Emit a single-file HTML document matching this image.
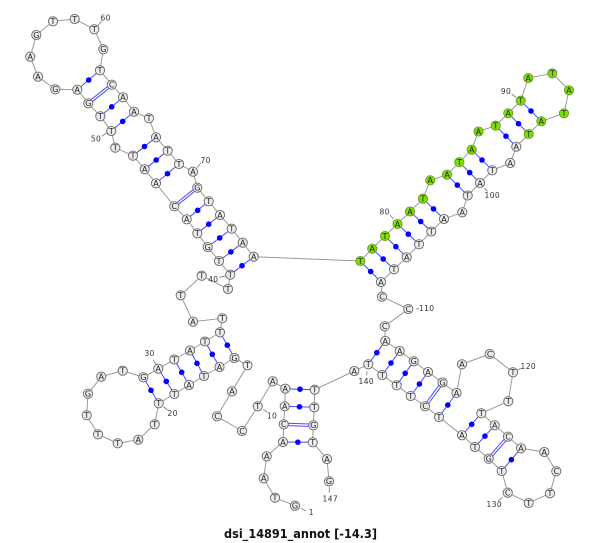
<!DOCTYPE html>
<html><head><meta charset="utf-8"><style>
html,body{margin:0;padding:0;background:#fff}
svg{display:block}
.n circle{fill:#ececec;stroke:#666;stroke-width:.9}
.n text{font:8px "DejaVu Sans",sans-serif;fill:#222;text-anchor:middle}
.g circle{fill:#7fe000;stroke:#6a9a30;stroke-width:.9}
.g text{font:8px "DejaVu Sans",sans-serif;fill:#222;text-anchor:middle}
.l text{font:7.5px "DejaVu Sans",sans-serif;fill:#333;text-anchor:middle;letter-spacing:.4px}
</style></head><body>
<svg width="600" height="543" viewBox="0 0 600 543" xmlns="http://www.w3.org/2000/svg">
<rect width="600" height="543" fill="#fff"/>
<polyline fill="none" stroke="#999" stroke-width="1" points="295,505.7 275,497.7 263.7,478.3 266.7,456.3 283,442 283.7,424.3 284.7,406.3 285.3,388.7 272.7,381.3 257.7,406.3 242,431 217,416.3 232,391.3 247.5,365.3 234.5,358 219.5,367 204,376 189,385 174.3,394 158.7,403.3 154.7,424.3 138.3,439.7 117.7,443.3 98,434.3 86.7,415.3 88,393.7 101.3,376.7 122.7,370.7 143.3,377.3 158.3,368.7 174.3,359.5 190,350.5 205,341.5 220,332.3 222.3,318.3 193,321.7 180.7,295.3 201.7,275.7 228,289 230.3,274.7 219,261 207.7,247 197.3,233.3 186.7,219.3 174.3,206.3 156,183.3 144.7,169.3 133,155.7 115.3,147.7 111.3,131 100.3,116.3 88.3,103.3 77.3,89.7 55.3,89.3 38,76.7 30.3,56.7 36.3,35 53,21.3 74.7,19 94.3,29.3 103.3,49.3 100,70.3 111.7,84.7 123,97.3 134,111.7 149,118.3 156,137.3 167.7,150.7 179,164 193,171.7 197.3,187.7 208.7,201.3 220,215 231.7,228.7 242.7,242.7 253.7,256.7 360.3,261 372.3,248.7 385,236 397.5,224 410,211.5 423,198.7 430.3,180.3 447,174.7 459.3,162.2 471.7,149.7 478.5,131.5 495.7,125.7 508.3,113.3 520.7,100.7 528.3,78 552.3,73.3 569,90.3 564,113.3 541.3,121.3 528.7,134 516.3,146.7 510.3,163 492.3,170.3 480,183 467.7,195.5 462.3,212.3 444,219 431.3,231.5 419,244.3 406.7,257.3 394,269.3 381,282 382,296.7 408.3,309 384.7,326.3 385.3,341 399.7,351 413.7,361.3 428,372 442.5,382.5 456.5,393 462,364.3 489.7,354 513,372.3 508.3,401.3 481.3,413.3 494.7,425.3 508,436.7 521,448.3 544.3,452 556.3,471.3 550,493.3 528.7,503 507.7,492.7 501.7,471 488.7,458.7 475,447 462,435.3 439,417 425,406.3 410.7,396 396.7,385.3 382.3,375 368.3,364.3 354.3,371 314.7,389.7 314.3,407.3 313.3,425.3 312.7,442.3 327,459 329,481.3"/>
<path fill="none" stroke="#4a4aff" stroke-width="1" d="M283,442L312.7,442.3M284.7,406.3L314.3,407.3M285.3,388.7L314.7,389.7M234.5,358L220,332.3M219.5,367L205,341.5M204,376L190,350.5M189,385L174.3,359.5M174.3,394L158.3,368.7M158.7,403.3L143.3,377.3M230.3,274.7L253.7,256.7M219,261L242.7,242.7M207.7,247L231.7,228.7M197.3,233.3L220,215M186.7,219.3L208.7,201.3M156,183.3L179,164M144.7,169.3L167.7,150.7M133,155.7L156,137.3M111.3,131L134,111.7M100.3,116.3L123,97.3M77.3,89.7L100,70.3M360.3,261L381,282M372.3,248.7L394,269.3M385,236L406.7,257.3M397.5,224L419,244.3M410,211.5L431.3,231.5M423,198.7L444,219M447,174.7L467.7,195.5M459.3,162.2L480,183M471.7,149.7L492.3,170.3M495.7,125.7L516.3,146.7M508.3,113.3L528.7,134M520.7,100.7L541.3,121.3M385.3,341L368.3,364.3M399.7,351L382.3,375M413.7,361.3L396.7,385.3M428,372L410.7,396M456.5,393L439,417M481.3,413.3L462,435.3M494.7,425.3L475,447M521,448.3L501.7,471
M175,207.2L198,188.6M173.6,205.4L196.6,186.8M89,104.2L112.4,85.6M87.6,102.4L111,83.8M443.5,383.2L426,407M441.5,381.8L424,405.6M508.9,437.5L489.6,459.5M507.1,435.9L487.8,457.9M283.7,423.1L313.3,424.1M283.7,425.5L313.3,426.5"/>
<g fill="#0000ff">
<circle cx="297.9" cy="442.2" r="2.8"/><circle cx="299.5" cy="406.8" r="2.8"/><circle cx="300" cy="389.2" r="2.8"/>
<circle cx="227.3" cy="345.2" r="2.8"/><circle cx="212.3" cy="354.3" r="2.8"/><circle cx="197" cy="363.3" r="2.8"/><circle cx="181.7" cy="372.3" r="2.8"/><circle cx="166.3" cy="381.4" r="2.8"/><circle cx="151" cy="390.3" r="2.8"/>
<circle cx="242" cy="265.7" r="2.8"/><circle cx="230.9" cy="251.9" r="2.8"/><circle cx="219.7" cy="237.9" r="2.8"/><circle cx="208.7" cy="224.2" r="2.8"/><circle cx="197.7" cy="210.3" r="2.8"/><circle cx="167.5" cy="173.7" r="2.8"/><circle cx="156.2" cy="160" r="2.8"/><circle cx="144.5" cy="146.5" r="2.8"/><circle cx="122.7" cy="121.4" r="2.8"/><circle cx="111.7" cy="106.8" r="2.8"/><circle cx="88.7" cy="80" r="2.8"/>
<circle cx="370.7" cy="271.5" r="2.8"/><circle cx="383.2" cy="259" r="2.8"/><circle cx="395.9" cy="246.7" r="2.8"/><circle cx="408.3" cy="234.2" r="2.8"/><circle cx="420.7" cy="221.5" r="2.8"/><circle cx="433.5" cy="208.9" r="2.8"/><circle cx="457.3" cy="185.1" r="2.8"/><circle cx="469.7" cy="172.6" r="2.8"/><circle cx="482" cy="160" r="2.8"/><circle cx="506" cy="136.2" r="2.8"/><circle cx="518.5" cy="123.7" r="2.8"/><circle cx="531" cy="111" r="2.8"/>
<circle cx="376.8" cy="352.7" r="2.8"/><circle cx="391" cy="363" r="2.8"/><circle cx="405.2" cy="373.3" r="2.8"/><circle cx="419.4" cy="384" r="2.8"/><circle cx="447.8" cy="405" r="2.8"/><circle cx="471.7" cy="424.3" r="2.8"/><circle cx="484.9" cy="436.2" r="2.8"/><circle cx="511.4" cy="459.7" r="2.8"/>
</g>
<path fill="none" stroke="#777" stroke-width=".8" d="M97.7,25.7L102,20.7M101.7,136.3L106.7,132.7M197.3,167.7L201,162.7M219.3,277.3L227.3,275.7M153.3,360L156.3,365M163.3,406.7L167.7,410M263,409.7L267.3,412M301,508.3L306,511M329.3,487.3L329.3,492.7M367.3,371.3L366.3,375.3M416,309L419.3,308.7M517.3,370L521.7,368M498.3,500.7L502.7,497.3M484.3,188.3L487.7,191.3M511.7,94L516,97.3M390,215L393.7,219.3"/>
<g class="n">
<circle cx="295" cy="505.7" r="4.6"/><text x="295" y="508.6">G</text>
<circle cx="275" cy="497.7" r="4.6"/><text x="275" y="500.6">T</text>
<circle cx="263.7" cy="478.3" r="4.6"/><text x="263.7" y="481.2">A</text>
<circle cx="266.7" cy="456.3" r="4.6"/><text x="266.7" y="459.2">A</text>
<circle cx="283" cy="442" r="4.6"/><text x="283" y="444.9">A</text>
<circle cx="283.7" cy="424.3" r="4.6"/><text x="283.7" y="427.2">C</text>
<circle cx="284.7" cy="406.3" r="4.6"/><text x="284.7" y="409.2">A</text>
<circle cx="285.3" cy="388.7" r="4.6"/><text x="285.3" y="391.6">A</text>
<circle cx="272.7" cy="381.3" r="4.6"/><text x="272.7" y="384.2">A</text>
<circle cx="257.7" cy="406.3" r="4.6"/><text x="257.7" y="409.2">T</text>
<circle cx="242" cy="431" r="4.6"/><text x="242" y="433.9">C</text>
<circle cx="217" cy="416.3" r="4.6"/><text x="217" y="419.2">C</text>
<circle cx="232" cy="391.3" r="4.6"/><text x="232" y="394.2">A</text>
<circle cx="247.5" cy="365.3" r="4.6"/><text x="247.5" y="368.2">T</text>
<circle cx="234.5" cy="358" r="4.6"/><text x="234.5" y="360.9">G</text>
<circle cx="219.5" cy="367" r="4.6"/><text x="219.5" y="369.9">A</text>
<circle cx="204" cy="376" r="4.6"/><text x="204" y="378.9">T</text>
<circle cx="189" cy="385" r="4.6"/><text x="189" y="387.9">A</text>
<circle cx="174.3" cy="394" r="4.6"/><text x="174.3" y="396.9">T</text>
<circle cx="158.7" cy="403.3" r="4.6"/><text x="158.7" y="406.2">T</text>
<circle cx="154.7" cy="424.3" r="4.6"/><text x="154.7" y="427.2">T</text>
<circle cx="138.3" cy="439.7" r="4.6"/><text x="138.3" y="442.6">A</text>
<circle cx="117.7" cy="443.3" r="4.6"/><text x="117.7" y="446.2">T</text>
<circle cx="98" cy="434.3" r="4.6"/><text x="98" y="437.2">T</text>
<circle cx="86.7" cy="415.3" r="4.6"/><text x="86.7" y="418.2">T</text>
<circle cx="88" cy="393.7" r="4.6"/><text x="88" y="396.6">G</text>
<circle cx="101.3" cy="376.7" r="4.6"/><text x="101.3" y="379.6">A</text>
<circle cx="122.7" cy="370.7" r="4.6"/><text x="122.7" y="373.6">T</text>
<circle cx="143.3" cy="377.3" r="4.6"/><text x="143.3" y="380.2">G</text>
<circle cx="158.3" cy="368.7" r="4.6"/><text x="158.3" y="371.6">A</text>
<circle cx="174.3" cy="359.5" r="4.6"/><text x="174.3" y="362.4">T</text>
<circle cx="190" cy="350.5" r="4.6"/><text x="190" y="353.4">A</text>
<circle cx="205" cy="341.5" r="4.6"/><text x="205" y="344.4">T</text>
<circle cx="220" cy="332.3" r="4.6"/><text x="220" y="335.2">T</text>
<circle cx="222.3" cy="318.3" r="4.6"/><text x="222.3" y="321.2">T</text>
<circle cx="193" cy="321.7" r="4.6"/><text x="193" y="324.6">A</text>
<circle cx="180.7" cy="295.3" r="4.6"/><text x="180.7" y="298.2">T</text>
<circle cx="201.7" cy="275.7" r="4.6"/><text x="201.7" y="278.6">T</text>
<circle cx="228" cy="289" r="4.6"/><text x="228" y="291.9">T</text>
<circle cx="230.3" cy="274.7" r="4.6"/><text x="230.3" y="277.6">T</text>
<circle cx="219" cy="261" r="4.6"/><text x="219" y="263.9">T</text>
<circle cx="207.7" cy="247" r="4.6"/><text x="207.7" y="249.9">G</text>
<circle cx="197.3" cy="233.3" r="4.6"/><text x="197.3" y="236.2">T</text>
<circle cx="186.7" cy="219.3" r="4.6"/><text x="186.7" y="222.2">A</text>
<circle cx="174.3" cy="206.3" r="4.6"/><text x="174.3" y="209.2">C</text>
<circle cx="156" cy="183.3" r="4.6"/><text x="156" y="186.2">A</text>
<circle cx="144.7" cy="169.3" r="4.6"/><text x="144.7" y="172.2">A</text>
<circle cx="133" cy="155.7" r="4.6"/><text x="133" y="158.6">T</text>
<circle cx="115.3" cy="147.7" r="4.6"/><text x="115.3" y="150.6">T</text>
<circle cx="111.3" cy="131" r="4.6"/><text x="111.3" y="133.9">T</text>
<circle cx="100.3" cy="116.3" r="4.6"/><text x="100.3" y="119.2">T</text>
<circle cx="88.3" cy="103.3" r="4.6"/><text x="88.3" y="106.2">G</text>
<circle cx="77.3" cy="89.7" r="4.6"/><text x="77.3" y="92.6">A</text>
<circle cx="55.3" cy="89.3" r="4.6"/><text x="55.3" y="92.2">G</text>
<circle cx="38" cy="76.7" r="4.6"/><text x="38" y="79.6">A</text>
<circle cx="30.3" cy="56.7" r="4.6"/><text x="30.3" y="59.6">A</text>
<circle cx="36.3" cy="35" r="4.6"/><text x="36.3" y="37.9">G</text>
<circle cx="53" cy="21.3" r="4.6"/><text x="53" y="24.2">T</text>
<circle cx="74.7" cy="19" r="4.6"/><text x="74.7" y="21.9">T</text>
<circle cx="94.3" cy="29.3" r="4.6"/><text x="94.3" y="32.2">T</text>
<circle cx="103.3" cy="49.3" r="4.6"/><text x="103.3" y="52.2">G</text>
<circle cx="100" cy="70.3" r="4.6"/><text x="100" y="73.2">T</text>
<circle cx="111.7" cy="84.7" r="4.6"/><text x="111.7" y="87.6">C</text>
<circle cx="123" cy="97.3" r="4.6"/><text x="123" y="100.2">A</text>
<circle cx="134" cy="111.7" r="4.6"/><text x="134" y="114.6">A</text>
<circle cx="149" cy="118.3" r="4.6"/><text x="149" y="121.2">T</text>
<circle cx="156" cy="137.3" r="4.6"/><text x="156" y="140.2">A</text>
<circle cx="167.7" cy="150.7" r="4.6"/><text x="167.7" y="153.6">T</text>
<circle cx="179" cy="164" r="4.6"/><text x="179" y="166.9">T</text>
<circle cx="193" cy="171.7" r="4.6"/><text x="193" y="174.6">A</text>
<circle cx="197.3" cy="187.7" r="4.6"/><text x="197.3" y="190.6">G</text>
<circle cx="208.7" cy="201.3" r="4.6"/><text x="208.7" y="204.2">T</text>
<circle cx="220" cy="215" r="4.6"/><text x="220" y="217.9">A</text>
<circle cx="231.7" cy="228.7" r="4.6"/><text x="231.7" y="231.6">T</text>
<circle cx="242.7" cy="242.7" r="4.6"/><text x="242.7" y="245.6">A</text>
<circle cx="253.7" cy="256.7" r="4.6"/><text x="253.7" y="259.6">A</text>
</g>
<g class="g">
<circle cx="360.3" cy="261" r="4.6"/><text x="360.3" y="263.9">T</text>
<circle cx="372.3" cy="248.7" r="4.6"/><text x="372.3" y="251.6">A</text>
<circle cx="385" cy="236" r="4.6"/><text x="385" y="238.9">T</text>
<circle cx="397.5" cy="224" r="4.6"/><text x="397.5" y="226.9">A</text>
<circle cx="410" cy="211.5" r="4.6"/><text x="410" y="214.4">A</text>
<circle cx="423" cy="198.7" r="4.6"/><text x="423" y="201.6">T</text>
<circle cx="430.3" cy="180.3" r="4.6"/><text x="430.3" y="183.2">A</text>
<circle cx="447" cy="174.7" r="4.6"/><text x="447" y="177.6">A</text>
<circle cx="459.3" cy="162.2" r="4.6"/><text x="459.3" y="165.1">T</text>
<circle cx="471.7" cy="149.7" r="4.6"/><text x="471.7" y="152.6">A</text>
<circle cx="478.5" cy="131.5" r="4.6"/><text x="478.5" y="134.4">A</text>
<circle cx="495.7" cy="125.7" r="4.6"/><text x="495.7" y="128.6">T</text>
<circle cx="508.3" cy="113.3" r="4.6"/><text x="508.3" y="116.2">A</text>
<circle cx="520.7" cy="100.7" r="4.6"/><text x="520.7" y="103.6">T</text>
<circle cx="528.3" cy="78" r="4.6"/><text x="528.3" y="80.9">A</text>
<circle cx="552.3" cy="73.3" r="4.6"/><text x="552.3" y="76.2">T</text>
<circle cx="569" cy="90.3" r="4.6"/><text x="569" y="93.2">A</text>
<circle cx="564" cy="113.3" r="4.6"/><text x="564" y="116.2">T</text>
<circle cx="541.3" cy="121.3" r="4.6"/><text x="541.3" y="124.2">A</text>
<circle cx="528.7" cy="134" r="4.6"/><text x="528.7" y="136.9">T</text>
</g>
<g class="n">
<circle cx="516.3" cy="146.7" r="4.6"/><text x="516.3" y="149.6">A</text>
<circle cx="510.3" cy="163" r="4.6"/><text x="510.3" y="165.9">A</text>
<circle cx="492.3" cy="170.3" r="4.6"/><text x="492.3" y="173.2">T</text>
<circle cx="480" cy="183" r="4.6"/><text x="480" y="185.9">A</text>
<circle cx="467.7" cy="195.5" r="4.6"/><text x="467.7" y="198.4">T</text>
<circle cx="462.3" cy="212.3" r="4.6"/><text x="462.3" y="215.2">A</text>
<circle cx="444" cy="219" r="4.6"/><text x="444" y="221.9">A</text>
<circle cx="431.3" cy="231.5" r="4.6"/><text x="431.3" y="234.4">T</text>
<circle cx="419" cy="244.3" r="4.6"/><text x="419" y="247.2">T</text>
<circle cx="406.7" cy="257.3" r="4.6"/><text x="406.7" y="260.2">A</text>
<circle cx="394" cy="269.3" r="4.6"/><text x="394" y="272.2">T</text>
<circle cx="381" cy="282" r="4.6"/><text x="381" y="284.9">A</text>
<circle cx="382" cy="296.7" r="4.6"/><text x="382" y="299.6">C</text>
<circle cx="408.3" cy="309" r="4.6"/><text x="408.3" y="311.9">C</text>
<circle cx="384.7" cy="326.3" r="4.6"/><text x="384.7" y="329.2">C</text>
<circle cx="385.3" cy="341" r="4.6"/><text x="385.3" y="343.9">A</text>
<circle cx="399.7" cy="351" r="4.6"/><text x="399.7" y="353.9">A</text>
<circle cx="413.7" cy="361.3" r="4.6"/><text x="413.7" y="364.2">G</text>
<circle cx="428" cy="372" r="4.6"/><text x="428" y="374.9">A</text>
<circle cx="442.5" cy="382.5" r="4.6"/><text x="442.5" y="385.4">G</text>
<circle cx="456.5" cy="393" r="4.6"/><text x="456.5" y="395.9">A</text>
<circle cx="462" cy="364.3" r="4.6"/><text x="462" y="367.2">A</text>
<circle cx="489.7" cy="354" r="4.6"/><text x="489.7" y="356.9">C</text>
<circle cx="513" cy="372.3" r="4.6"/><text x="513" y="375.2">T</text>
<circle cx="508.3" cy="401.3" r="4.6"/><text x="508.3" y="404.2">T</text>
<circle cx="481.3" cy="413.3" r="4.6"/><text x="481.3" y="416.2">T</text>
<circle cx="494.7" cy="425.3" r="4.6"/><text x="494.7" y="428.2">A</text>
<circle cx="508" cy="436.7" r="4.6"/><text x="508" y="439.6">C</text>
<circle cx="521" cy="448.3" r="4.6"/><text x="521" y="451.2">A</text>
<circle cx="544.3" cy="452" r="4.6"/><text x="544.3" y="454.9">A</text>
<circle cx="556.3" cy="471.3" r="4.6"/><text x="556.3" y="474.2">C</text>
<circle cx="550" cy="493.3" r="4.6"/><text x="550" y="496.2">T</text>
<circle cx="528.7" cy="503" r="4.6"/><text x="528.7" y="505.9">T</text>
<circle cx="507.7" cy="492.7" r="4.6"/><text x="507.7" y="495.6">C</text>
<circle cx="501.7" cy="471" r="4.6"/><text x="501.7" y="473.9">T</text>
<circle cx="488.7" cy="458.7" r="4.6"/><text x="488.7" y="461.6">G</text>
<circle cx="475" cy="447" r="4.6"/><text x="475" y="449.9">T</text>
<circle cx="462" cy="435.3" r="4.6"/><text x="462" y="438.2">A</text>
<circle cx="439" cy="417" r="4.6"/><text x="439" y="419.9">T</text>
<circle cx="425" cy="406.3" r="4.6"/><text x="425" y="409.2">C</text>
<circle cx="410.7" cy="396" r="4.6"/><text x="410.7" y="398.9">T</text>
<circle cx="396.7" cy="385.3" r="4.6"/><text x="396.7" y="388.2">T</text>
<circle cx="382.3" cy="375" r="4.6"/><text x="382.3" y="377.9">T</text>
<circle cx="368.3" cy="364.3" r="4.6"/><text x="368.3" y="367.2">T</text>
<circle cx="354.3" cy="371" r="4.6"/><text x="354.3" y="373.9">A</text>
<circle cx="314.7" cy="389.7" r="4.6"/><text x="314.7" y="392.6">T</text>
<circle cx="314.3" cy="407.3" r="4.6"/><text x="314.3" y="410.2">T</text>
<circle cx="313.3" cy="425.3" r="4.6"/><text x="313.3" y="428.2">G</text>
<circle cx="312.7" cy="442.3" r="4.6"/><text x="312.7" y="445.2">T</text>
<circle cx="327" cy="459" r="4.6"/><text x="327" y="461.9">A</text>
<circle cx="329" cy="481.3" r="4.6"/><text x="329" y="484.2">G</text>
</g>
<g class="l">
<text x="105.7" y="20.3">60</text>
<text x="96" y="141.5">50</text>
<text x="205.7" y="163">70</text>
<text x="213.3" y="282">40</text>
<text x="149.7" y="356">30</text>
<text x="172.7" y="416">20</text>
<text x="272" y="418.5">10</text>
<text x="311.3" y="515">1</text>
<text x="330.3" y="501.5">147</text>
<text x="366.3" y="384">140</text>
<text x="426.7" y="311">110</text>
<text x="528.3" y="369">120</text>
<text x="494.3" y="507">130</text>
<text x="492.3" y="198">100</text>
<text x="506" y="94">90</text>
<text x="384.7" y="214.5">80</text>
</g>
<text x="300.5" y="538" text-anchor="middle" textLength="153" lengthAdjust="spacingAndGlyphs" style="font:bold 12px 'DejaVu Sans',sans-serif;fill:#111">dsi_14891_annot [-14.3]</text>
</svg>
</body></html>
